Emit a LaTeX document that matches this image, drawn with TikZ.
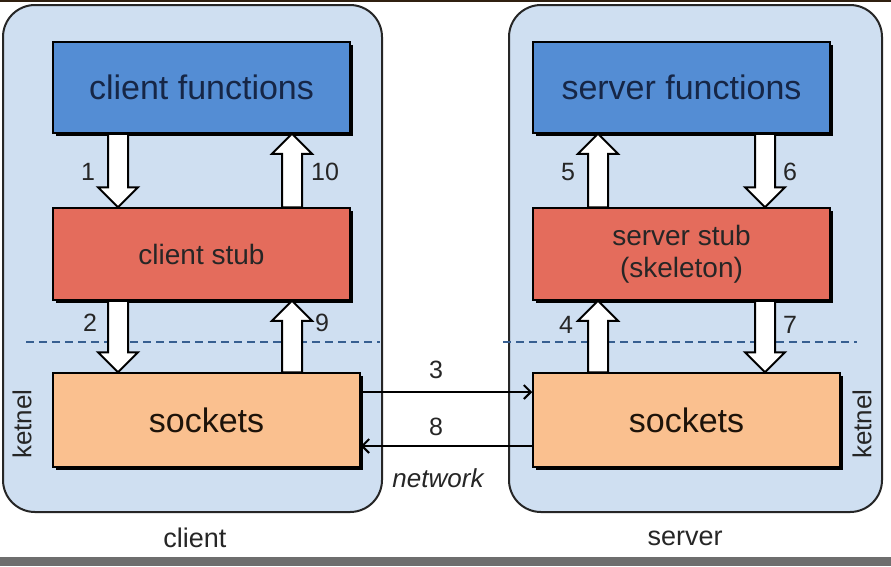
\documentclass[tikz,border=0pt]{standalone}
\usepackage{fontspec}
\setmainfont{Liberation Sans}
\usetikzlibrary{arrows.meta,calc,shadows}
\definecolor{panelfill}{RGB}{207,223,241}
\definecolor{funcblue}{RGB}{84,141,212}
\definecolor{stubred}{RGB}{228,108,92}
\definecolor{sockpeach}{RGB}{250,192,143}
\definecolor{navytext}{RGB}{22,38,70}
\definecolor{dashblue}{RGB}{55,95,145}
\definecolor{barGray}{RGB}{110,110,110}
\newcommand\downblk[2]{\draw[blk] let \p1=(#1), \p2=(#2) in
  (\x1-10pt,\y1) -- (\x1-10pt,\y2+20pt) -- (\x1-20pt,\y2+20pt) -- (\x1,\y2) --
  (\x1+20pt,\y2+20pt) -- (\x1+10pt,\y2+20pt) -- (\x1+10pt,\y1) -- cycle;}
\newcommand\upblk[2]{\draw[blk] let \p1=(#1), \p2=(#2) in
  (\x1-10pt,\y1) -- (\x1-10pt,\y2-20pt) -- (\x1-20pt,\y2-20pt) -- (\x1,\y2) --
  (\x1+20pt,\y2-20pt) -- (\x1+10pt,\y2-20pt) -- (\x1+10pt,\y1) -- cycle;}
\begin{document}
\begin{tikzpicture}[x=1pt,y=-1pt,
  panel/.style={draw=black!85, line width=2pt, fill=panelfill, rounded corners=32pt,
    minimum width=#1, minimum height=507pt, inner sep=0pt},
  box/.style={draw=black, line width=1.5pt, inner sep=0pt,
    drop shadow={shadow xshift=2.5pt, shadow yshift=-2.5pt, opacity=1, fill=black}},
  funcbox/.style={box, fill=funcblue, text=navytext, minimum width=297pt, minimum height=91pt,
    font=\fontsize{34}{40}\selectfont},
  stubbox/.style={box, fill=stubred, text=black!85, minimum width=297pt, minimum height=92pt,
    align=center, font=\fontsize{28}{32}\selectfont},
  sockbox/.style={box, fill=sockpeach, text=black!85!brown, minimum width=307pt, minimum height=94pt,
    font=\fontsize{34}{40}\selectfont},
  blk/.style={draw=black, fill=white, line width=2pt, line join=miter},
  num/.style={font=\fontsize{25}{30}\selectfont, text=black!85, inner sep=0pt},
  lbl/.style={font=\fontsize{27}{32}\selectfont, text=black!85, inner sep=0pt},
  kern/.style={font=\fontsize{26}{30}\selectfont, text=black!85, inner sep=0pt, rotate=90},
  dashln/.style={draw=dashblue, line width=2pt, dash pattern=on 8pt off 5pt},
  net/.style={draw=black, line width=2pt, -{Straight Barb[length=7pt,width=14pt,line width=2pt]}}
]
\useasboundingbox (0,0) rectangle (891,566);
\fill[white] (0,0) rectangle (891,566);
% screenshot edges
\fill[black!75!brown] (0,0) rectangle (891,2);
\fill[barGray] (0,557) rectangle (891,566);

% panels
\node[panel=379pt] (cp) at (192.5,258.5) {};
\node[panel=373pt] (sp) at (695.5,258.5) {};

% kernel boundaries
\coordinate (dlA) at (26,342);
\coordinate (dlB) at (380,342);
\coordinate (dlC) at (503,342);
\coordinate (dlD) at (857,342);
\draw[dashln] (dlA) -- (dlB);
\draw[dashln] (dlC) -- (dlD);

% boxes
\node[funcbox] (cf) at (201.5,87.5) {\raisebox{-3pt}{client functions}};
\node[stubbox] (cs) at (201.5,254) {client stub};
\node[sockbox] (ck) at (206.5,420) {\raisebox{-2pt}{sockets}};
\node[funcbox] (sf) at (681.5,87.5) {\raisebox{-3pt}{server functions}};
\node[stubbox] (ss) at (681.5,254) {server stub\\(skeleton)};
\node[sockbox] (sk) at (686.5,420) {\raisebox{-2pt}{sockets}};

% columns for block arrows
\coordinate (xa) at (118,0);
\coordinate (xb) at (292,0);
\coordinate (xc) at (598,0);
\coordinate (xd) at (765,0);

\downblk{cf.south -| xa}{cs.north -| xa}
\upblk{cs.north -| xb}{cf.south -| xb}
\downblk{cs.south -| xa}{ck.north -| xa}
\upblk{ck.north -| xb}{cs.south -| xb}
\upblk{ss.north -| xc}{sf.south -| xc}
\downblk{sf.south -| xd}{ss.north -| xd}
\upblk{sk.north -| xc}{ss.south -| xc}
\downblk{ss.south -| xd}{sk.north -| xd}

% numbers
\node[num] (n1) at (88,172) {1};
\node[num] (n10) at (325,172) {10};
\node[num] (n2) at (90,323) {2};
\node[num] (n9) at (322,323) {9};
\node[num] (n5) at (568,172) {5};
\node[num] (n6) at (790,172) {6};
\node[num] (n4) at (566,325) {4};
\node[num] (n7) at (790,325) {7};

% network arrows
\coordinate (ya) at (0,392);
\coordinate (yb) at (0,446);
\draw[net] (ck.east |- ya) -- (sk.west |- ya);
\draw[net] (sk.west |- yb) -- (ck.east |- yb);
\node[num] (n3) at (436,370) {3};
\node[num] (n8) at (436,427) {8};
\node[lbl, font=\fontsize{26}{30}\selectfont\itshape] (nw) at (438,478) {network};

% side and bottom labels
\node[kern] (kc) at (22,424) {ketnel};
\node[kern] (ks) at (862,424) {ketnel};
\node[lbl] (lc) at (195,538) {client};
\node[lbl] (ls) at (685,538) {server};
\end{tikzpicture}
\end{document}
